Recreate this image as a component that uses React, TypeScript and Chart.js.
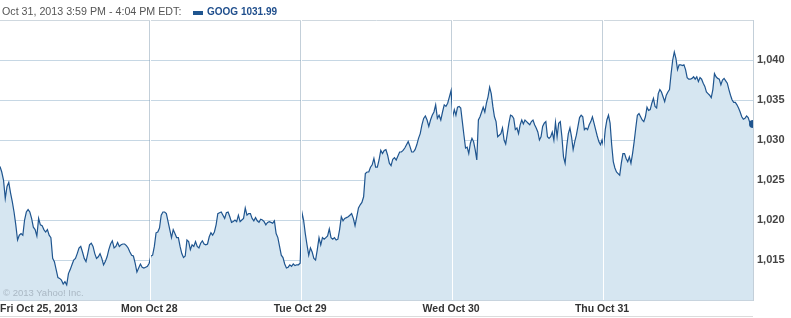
import React, { useEffect, useRef } from 'react';
import { Chart, registerables } from 'chart.js';

Chart.register(...registerables);

// ---- data ----
const dayLabels = ['Fri Oct 25, 2013', 'Mon Oct 28', 'Tue Oct 29', 'Wed Oct 30', 'Thu Oct 31'];
const priceTicks = [1015, 1020, 1025, 1030, 1035, 1040];
const priceMin = 1010;
const priceMax = 1045;
const minutesPerDay = 390;
const symbol = 'GOOG';
const lastPrice = 1031.99;
const headerText = 'Oct 31, 2013 3:59 PM - 4:04 PM EDT:';

const oct25 = [
  1026.7, 1026.0, 1025.0, 1022.7, 1024.2, 1024.7, 1023.4, 1022.3, 1021.0, 1019.4,
  1017.5, 1018.1, 1018.3, 1018.1, 1020.0, 1021.0, 1021.3, 1021.0, 1020.2, 1019.1,
  1018.8, 1018.0, 1020.2, 1019.4, 1019.3, 1018.8, 1018.5, 1018.8, 1018.1, 1017.8,
  1015.2, 1014.8, 1013.8, 1012.8, 1012.7, 1012.5, 1012.0, 1012.3, 1011.9, 1013.3,
  1013.8, 1014.4, 1015.0, 1015.2, 1015.8, 1016.5, 1016.7, 1016.0, 1015.2, 1014.8,
  1015.8, 1016.9, 1017.1, 1016.7, 1015.8, 1015.2, 1015.4, 1015.8, 1015.2, 1014.4,
  1014.8, 1015.4, 1016.3, 1017.0, 1017.4, 1016.5, 1016.7, 1017.2, 1016.7, 1016.9,
  1017.0, 1017.0, 1016.8, 1016.5, 1016.0, 1015.6, 1015.5, 1014.6, 1013.5, 1014.0,
  1014.5, 1014.1, 1014.0, 1014.1, 1014.2, 1014.6,
];

const oct28 = [
  1015.5, 1015.6, 1016.7, 1018.4, 1018.5, 1019.0, 1020.6, 1021.0, 1021.0, 1020.8,
  1019.8, 1018.8, 1017.8, 1018.8, 1018.3, 1017.8, 1017.8, 1016.7, 1015.8, 1015.3,
  1015.5, 1017.5, 1017.3, 1016.3, 1016.9, 1016.7, 1017.3,
  1016.7, 1016.5, 1017.1, 1017.4, 1017.0, 1016.9, 1017.0, 1017.9, 1018.4, 1018.1,
  1018.5, 1019.4, 1020.8, 1020.9, 1021.0, 1020.6, 1020.2, 1020.9, 1021.0, 1020.4,
  1019.7, 1019.8, 1020.0, 1019.8, 1020.6, 1019.8, 1020.0, 1020.2, 1021.5, 1020.6,
  1020.8, 1020.8, 1020.2, 1019.9, 1020.3, 1019.9, 1019.7, 1020.1, 1020.0, 1019.8,
  1019.4, 1019.7, 1019.8, 1019.7, 1019.6, 1019.9, 1018.3, 1017.8, 1016.7, 1015.6,
  1015.3, 1014.5, 1014.0, 1014.1, 1014.4, 1014.2, 1014.5, 1014.3, 1014.4, 1014.4, 1014.6,
];

const oct29 = [
  1021.0, 1020.0, 1018.3, 1016.9, 1015.6, 1016.5, 1016.0, 1015.2, 1015.0, 1016.3,
  1017.8, 1016.9, 1017.8, 1017.6, 1017.8, 1018.0, 1018.9, 1017.8, 1017.6, 1017.8,
  1017.5, 1017.6, 1018.8, 1020.4, 1019.9, 1020.2, 1020.3, 1020.4, 1020.6, 1020.8,
  1020.2, 1019.3, 1020.4, 1021.5, 1021.9, 1022.2, 1022.9,
  1025.8, 1026.0, 1026.0, 1026.6, 1026.9, 1027.7, 1026.6, 1026.6, 1027.5, 1028.7,
  1028.3, 1028.7, 1028.8, 1028.1, 1027.1, 1026.8, 1027.6, 1027.8, 1027.5, 1028.0,
  1028.5, 1028.5, 1028.7, 1029.0, 1029.4, 1029.8, 1029.2, 1028.5, 1028.5, 1028.8,
  1029.4, 1030.2, 1030.8, 1031.9, 1032.7, 1033.0, 1032.5, 1031.7, 1032.5, 1033.1,
  1033.5, 1034.4, 1032.7, 1033.1, 1032.5, 1033.5, 1034.4, 1034.2, 1034.6, 1035.4, 1036.2,
];

const oct30 = [
  1032.9, 1033.8, 1033.1, 1034.1, 1034.2, 1034.0, 1032.3, 1030.6, 1029.0, 1029.1,
  1028.3, 1029.6, 1030.2, 1029.8, 1028.8, 1027.5, 1032.5, 1032.9, 1033.5, 1034.1,
  1033.5, 1034.6, 1035.4, 1036.6, 1035.8, 1034.2, 1032.9, 1032.3, 1030.4, 1030.6,
  1030.8, 1031.5, 1030.0, 1029.5, 1030.8, 1032.1, 1033.1, 1033.0, 1032.7, 1031.3,
  1031.5, 1030.8, 1031.9, 1032.5, 1032.0, 1032.5, 1032.3, 1032.1, 1031.9, 1032.3,
  1032.5, 1031.9, 1031.5, 1031.0, 1030.0, 1030.4, 1031.7, 1032.1, 1032.3, 1030.4,
  1030.2, 1030.4, 1031.0, 1030.0, 1032.2, 1030.4, 1032.1, 1032.3, 1030.4, 1027.9,
  1027.1, 1029.2, 1030.8, 1031.5, 1030.4, 1028.8, 1029.8, 1030.6, 1031.7, 1032.8,
  1033.1, 1032.9, 1031.3, 1031.5, 1031.3, 1031.9, 1032.3, 1032.9, 1032.1, 1031.3,
  1030.5, 1029.8, 1029.4, 1030.0,
];

const oct31 = [
  1029.2, 1031.3, 1032.5, 1033.1, 1032.1, 1029.4, 1027.3, 1026.5, 1026.0, 1025.8,
  1025.6, 1027.1, 1028.3, 1028.3, 1027.7, 1027.3, 1027.9, 1027.1, 1028.3, 1029.8,
  1031.5, 1033.1, 1033.3, 1032.9, 1032.5, 1032.3, 1032.9, 1034.1, 1033.7, 1033.8,
  1034.6, 1035.2, 1034.2, 1034.0, 1035.8, 1036.3, 1036.0, 1035.4, 1034.8, 1035.6,
  1036.0, 1036.3, 1038.3, 1040.0, 1041.0, 1040.2, 1038.8, 1039.4, 1039.4, 1039.3,
  1039.4, 1038.8, 1037.8, 1037.6, 1037.6, 1037.7, 1037.9, 1037.6, 1037.9, 1037.3,
  1037.8, 1037.6, 1037.1, 1036.7, 1036.0, 1035.8, 1035.6, 1035.3, 1036.3, 1038.3,
  1037.9, 1037.7, 1037.6, 1036.9, 1037.5, 1037.7, 1037.4, 1037.1, 1036.3, 1035.6,
  1035.0, 1034.7, 1034.7, 1034.4, 1034.0, 1033.5, 1032.9, 1032.6, 1032.7, 1033.0,
  1032.8, 1032.2, 1032.0, 1031.99,
];

const days = [oct25, oct28, oct29, oct30, oct31];

// ---- derived ----
const points = days.flatMap((vals, d) =>
  vals.map((v, i) => ({ x: d * minutesPerDay + ((i + 1) * minutesPerDay) / vals.length, y: v }))
);
const xMin = points[0].x;
const xMax = points[points.length - 1].x;
const dayStarts = days.map((_, d) => d * minutesPerDay);

const fmt = (v: number) => v.toLocaleString('en-US');

const LINE = '#1f558f';
const FILL = '#d6e6f1';

const daySeparators = {
  id: 'daySeparators',
  afterDatasetsDraw(chart: any) {
    const { ctx, chartArea, scales } = chart;
    const x = scales.x;
    ctx.save();
    ctx.strokeStyle = '#ffffff';
    ctx.lineWidth = 1;
    for (let d = 1; d < dayStarts.length; d++) {
      const px = Math.round(x.getPixelForValue(dayStarts[d])) + 1.5;
      ctx.beginPath();
      ctx.moveTo(px, chartArea.top);
      ctx.lineTo(px, chartArea.bottom);
      ctx.stroke();
    }
    ctx.restore();
  },
};

export default function App() {
  const ref = useRef<HTMLCanvasElement | null>(null);

  useEffect(() => {
    document.body.style.margin = '0';
    if (!ref.current) return;
    const chart = new Chart(ref.current, {
      type: 'line',
      data: {
        datasets: [
          {
            data: points,
            borderColor: LINE,
            borderWidth: 1.2,
            backgroundColor: FILL,
            fill: 'start',
            tension: 0,
            pointRadius: (c: any) => (c.dataIndex === points.length - 1 ? 4 : 0),
            pointBackgroundColor: LINE,
            pointBorderWidth: 0,
          },
        ],
      },
      options: {
        responsive: false,
        animation: false,
        events: [],
        layout: { autoPadding: false, padding: { top: 20, left: 0, right: 0, bottom: 0 } },
        plugins: { legend: { display: false }, tooltip: { enabled: false } },
        scales: {
          x: {
            type: 'linear',
            min: xMin,
            max: xMax,
            afterBuildTicks: (s: any) => {
              s.ticks = [xMin, ...dayStarts.slice(1), xMax].map((value) => ({ value }));
            },
            afterFit: (s: any) => {
              s.height = 18;
              s.paddingLeft = 0;
              s.paddingRight = 0;
            },
            ticks: {
              align: 'inner',
              maxRotation: 0,
              autoSkip: false,
              padding: 3,
              color: '#333333',
              font: { family: 'Liberation Sans', size: 10.5, weight: 'bold' },
              callback: (_v: any, i: number) => dayLabels[i] ?? '',
            },
            grid: {
              drawTicks: false,
              lineWidth: 1,
              color: (c: any) =>
                c.index === 0 || c.index === dayLabels.length ? 'rgba(0,0,0,0)' : '#c3cfd9',
            },
            border: { display: true, color: '#c8d4de' },
          },
          y: {
            type: 'linear',
            position: 'right',
            min: priceMin,
            max: priceMax,
            z: 1,
            afterBuildTicks: (s: any) => {
              s.ticks = [...priceTicks, priceMax].map((value) => ({ value }));
            },
            afterFit: (s: any) => {
              s.width = 38;
            },
            ticks: {
              padding: 4,
              color: '#444444',
              font: { family: 'Liberation Sans', size: 11, weight: 'bold' },
              callback: (v: any) => (v === priceMax ? '' : fmt(v)),
            },
            grid: {
              drawTicks: false,
              lineWidth: 1,
              color: (c: any) => (c.tick && c.tick.value === priceMax ? '#cfd8df' : 'rgba(120,160,190,0.42)'),
            },
            border: { display: true, color: '#c3cfd9' },
          },
        },
      },
      plugins: [daySeparators],
    } as any);
    return () => chart.destroy();
  }, []);

  return (
    <div style={{ position: 'relative', width: 791, height: 318, fontFamily: 'Liberation Sans, Arial, sans-serif' }}>
      <canvas ref={ref} width={791} height={318} style={{ display: 'block', width: 791, height: 318 }} />
      <div
        style={{
          position: 'absolute',
          left: 2,
          top: 5,
          height: 13,
          lineHeight: '13px',
          fontSize: 10.7,
          color: '#555555',
          whiteSpace: 'nowrap',
        }}
      >
        {headerText}
      </div>
      <div style={{ position: 'absolute', left: 193, top: 11, width: 10, height: 4, background: LINE }} />
      <div
        style={{
          position: 'absolute',
          left: 207,
          top: 5,
          height: 13,
          lineHeight: '13px',
          fontSize: 10,
          fontWeight: 'bold',
          color: '#1f4e8c',
          whiteSpace: 'nowrap',
        }}
      >
        {symbol} {lastPrice}
      </div>
      <div
        style={{
          position: 'absolute',
          left: 3,
          top: 287,
          lineHeight: '12px',
          fontSize: 9.5,
          color: '#aab8c4',
          whiteSpace: 'nowrap',
        }}
      >
        © 2013 Yahoo! Inc.
      </div>
      <div style={{ position: 'absolute', left: 0, top: 316, width: 753, height: 1, background: '#dcdcdc' }} />
    </div>
  );
}
